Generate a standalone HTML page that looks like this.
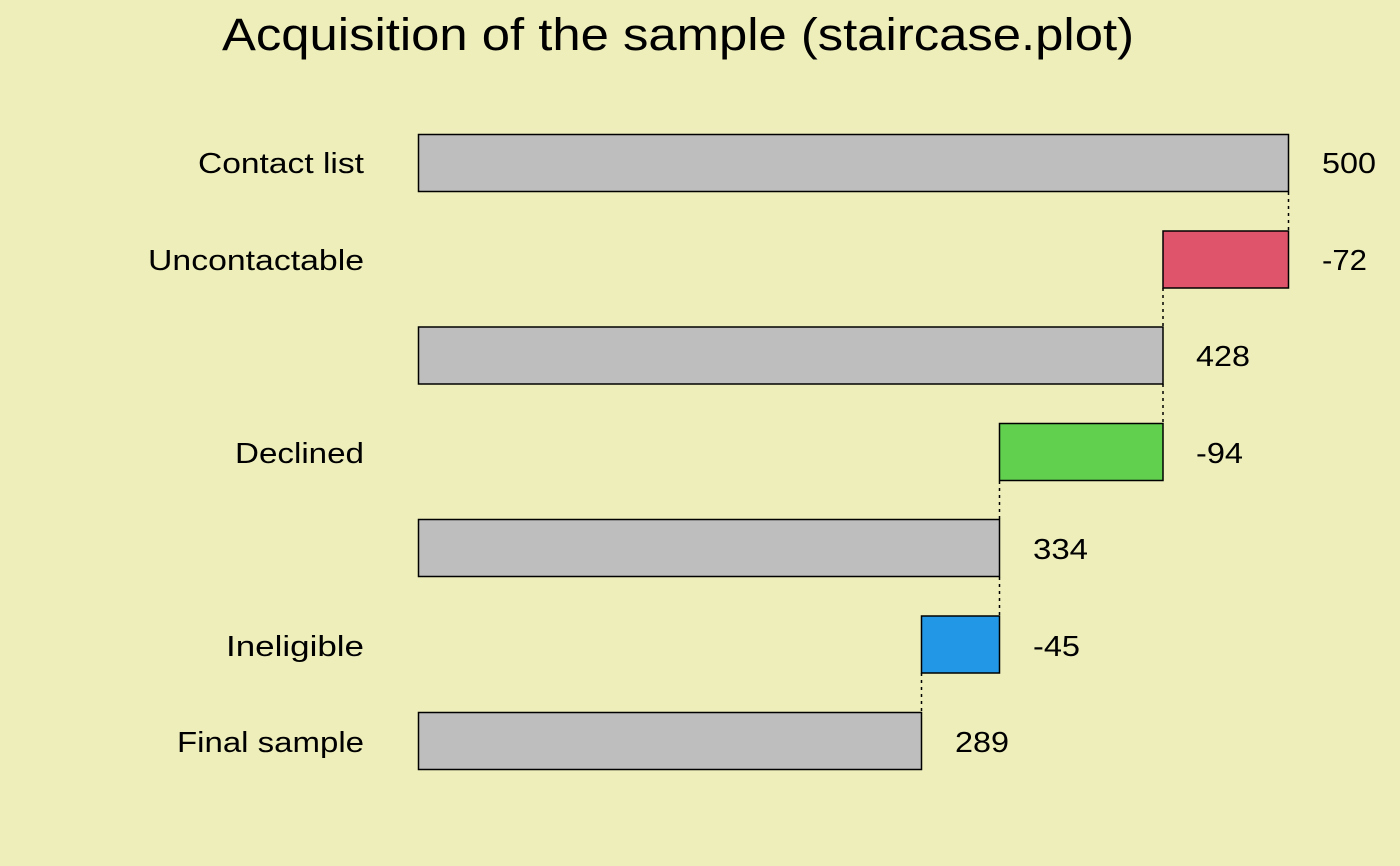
<!DOCTYPE html>
<html><head><meta charset="utf-8"><style>
html,body{margin:0;padding:0;background:#EEEEBB;}
svg{display:block;font-family:"Liberation Sans",sans-serif;}
</style></head><body>
<svg width="1400" height="866" viewBox="0 0 1400 866" xmlns="http://www.w3.org/2000/svg">
<rect width="1400" height="866" fill="#EEEEBB"/>
<text x="678" y="50" font-size="45" text-anchor="middle" textLength="912" lengthAdjust="spacingAndGlyphs">Acquisition of the sample (staircase.plot)</text>
<g stroke="#000" stroke-width="1.5">
<rect x="418.5" y="134.5" width="870" height="57" fill="#BEBEBE"/>
<rect x="1163" y="231" width="125.5" height="57" fill="#DF536B"/>
<rect x="418.5" y="327" width="744.5" height="57" fill="#BEBEBE"/>
<rect x="999.5" y="423.5" width="163.5" height="57" fill="#61D04F"/>
<rect x="418.5" y="519.5" width="581" height="57" fill="#BEBEBE"/>
<rect x="921.5" y="616" width="78" height="57" fill="#2297E6"/>
<rect x="418.5" y="712.5" width="503" height="57" fill="#BEBEBE"/>
</g>
<g stroke="#000" stroke-width="1.5" stroke-dasharray="3,4">
<line x1="1288.5" y1="192" x2="1288.5" y2="231"/>
<line x1="1163" y1="288" x2="1163" y2="327"/>
<line x1="1163" y1="384" x2="1163" y2="423"/>
<line x1="999.5" y1="481" x2="999.5" y2="519"/>
<line x1="999.5" y1="577" x2="999.5" y2="616"/>
<line x1="921.5" y1="673" x2="921.5" y2="712"/>
</g>
<g font-size="29" text-anchor="end">
<text x="364" y="173" textLength="166" lengthAdjust="spacingAndGlyphs">Contact list</text>
<text x="364" y="270" textLength="216" lengthAdjust="spacingAndGlyphs">Uncontactable</text>
<text x="364" y="463" textLength="129" lengthAdjust="spacingAndGlyphs">Declined</text>
<text x="364" y="656" textLength="138" lengthAdjust="spacingAndGlyphs">Ineligible</text>
<text x="364" y="752" textLength="187" lengthAdjust="spacingAndGlyphs">Final sample</text>
</g>
<g font-size="29">
<text x="1322" y="173" textLength="54" lengthAdjust="spacingAndGlyphs">500</text>
<text x="1322" y="270" textLength="45" lengthAdjust="spacingAndGlyphs">-72</text>
<text x="1196" y="366" textLength="54" lengthAdjust="spacingAndGlyphs">428</text>
<text x="1196" y="463" textLength="47" lengthAdjust="spacingAndGlyphs">-94</text>
<text x="1033" y="559" textLength="55" lengthAdjust="spacingAndGlyphs">334</text>
<text x="1033" y="656" textLength="47" lengthAdjust="spacingAndGlyphs">-45</text>
<text x="955" y="752" textLength="54" lengthAdjust="spacingAndGlyphs">289</text>
</g>
</svg>
</body></html>
